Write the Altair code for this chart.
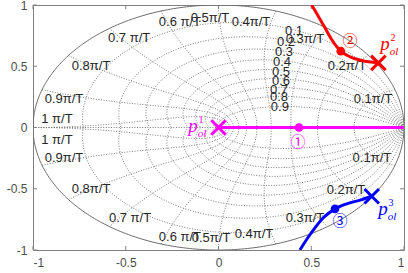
import numpy as np
import pandas as pd
import altair as alt

# ---------------- data ----------------
zeta_vals = [0.1, 0.2, 0.3, 0.4, 0.5, 0.6, 0.7, 0.8, 0.9]
wn_vals = [0.1, 0.2, 0.3, 0.4, 0.5, 0.6, 0.7, 0.8, 0.9, 1.0]
tick_vals = [-1, -0.5, 0, 0.5, 1]

wn_labels = ["0.1π/T", "0.2π/T", "0.3π/T", "0.4π/T", "0.5π/T",
             "0.6 π/T", "0.7 π/T", "0.8π/T", "0.9π/T", "1 π/T"]
wn_lab_x_up = [0.833, 0.693, 0.466, 0.175, -0.046, -0.208, -0.482, -0.687, -0.833, -0.871]
wn_lab_y_up = [0.229, 0.498, 0.725, 0.865, 0.893, 0.865, 0.727, 0.498, 0.229, 0.073]
wn_lab_x_lo = [0.827, 0.687, 0.466, 0.191, -0.040, -0.208, -0.477, -0.687, -0.833, -0.871]
wn_lab_y_lo = [-0.253, -0.514, -0.735, -0.873, -0.898, -0.890, -0.735, -0.506, -0.245, -0.098]

zeta_labels = ["0.1", "0.2", "0.3", "0.4", "0.5", "0.6", "0.7", "0.8", "0.9"]
zeta_lab_x = [0.407, 0.364, 0.353, 0.342, 0.337, 0.337, 0.326, 0.326, 0.331]
zeta_lab_y = [0.784, 0.702, 0.620, 0.531, 0.449, 0.376, 0.310, 0.245, 0.171]

locus1_x = [0.0, 0.434, 1.0]
locus1_y = [0.0, 0.0, 0.0]
locus2_x = [0.502, 0.538, 0.574, 0.610, 0.659, 0.709, 0.772, 0.862]
locus2_y = [1.000, 0.909, 0.814, 0.718, 0.623, 0.577, 0.547, 0.528]
locus3_x = [0.439, 0.475, 0.520, 0.565, 0.628, 0.691, 0.763, 0.826]
locus3_y = [-1.000, -0.914, -0.819, -0.737, -0.664, -0.623, -0.593, -0.561]

pole_x = [0.0, 0.862, 0.826]
pole_y = [0.0, 0.528, -0.561]
dot_x = [0.434, 0.659, 0.628]
dot_y = [0.0, 0.623, -0.664]
branch = ["1", "2", "3"]
line_colors = ["#ff00ff", "#ff0000", "#0000ff"]
dot_colors = ["#f030c8", "#f01010", "#0010f0"]
text_colors = ["#ff40d0", "#ff3030", "#3030ff"]
circ_text = ["①", "②", "③"]
circ_x = [0.429, 0.709, 0.655]
circ_y = [-0.122, 0.710, -0.767]
p_x = [-0.137, 0.898, 0.887]
p_y = [-0.040, 0.629, -0.718]

# ---------------- tables ----------------
rows = []
th = np.linspace(0, np.pi, 181)
for i, z in enumerate(zeta_vals):
    m = z / np.sqrt(1 - z * z)
    r = np.exp(-m * th)
    for s in (1, -1):
        for k in range(len(th)):
            rows.append(dict(g=f"z{i}{s}", o=k, x=r[k] * np.cos(th[k]), y=s * r[k] * np.sin(th[k])))
zz = np.linspace(0, 1, 81)
for i, wn in enumerate(wn_vals):
    w = wn * np.pi
    mag = np.exp(-w * zz)
    ang = w * np.sqrt(1 - zz ** 2)
    for s in (1, -1):
        for k in range(len(zz)):
            rows.append(dict(g=f"w{i}{s}", o=k, x=mag[k] * np.cos(ang[k]), y=s * mag[k] * np.sin(ang[k])))
rows.append(dict(g="axis", o=0, x=-1.0, y=0.0))
rows.append(dict(g="axis", o=1, x=1.0, y=0.0))
grid_df = pd.DataFrame(rows)

tc = np.linspace(0, 2 * np.pi, 361)
circle_df = pd.DataFrame(dict(o=range(len(tc)), x=np.cos(tc), y=np.sin(tc)))

wn_df = pd.DataFrame(dict(t=wn_labels * 2, x=wn_lab_x_up + wn_lab_x_lo, y=wn_lab_y_up + wn_lab_y_lo))
zeta_df = pd.DataFrame(dict(t=zeta_labels, x=zeta_lab_x, y=zeta_lab_y))

loc_rows = []
for b, xs, ys in zip(branch, [locus1_x, locus2_x, locus3_x], [locus1_y, locus2_y, locus3_y]):
    for k, (a, c) in enumerate(zip(xs, ys)):
        loc_rows.append(dict(b=b, o=k, x=a, y=c))
loc_df = pd.DataFrame(loc_rows)
pole_df = pd.DataFrame(dict(b=branch, x=pole_x, y=pole_y))
dot_df = pd.DataFrame(dict(b=branch, x=dot_x, y=dot_y))
circ_df = pd.DataFrame(dict(b=branch, t=circ_text, x=circ_x, y=circ_y))
p_df = pd.DataFrame(dict(b=branch, x=p_x, y=p_y, sup=branch))
tick_df = pd.DataFrame(dict(v=tick_vals))

W, H = 371, 245
dom = [-1, 1]
ax_common = dict(values=tick_vals, title=None, domain=False, ticks=False, grid=False,
                 labelExpr="'' + datum.value", labelFont="Liberation Sans",
                 labelFontSize=12, labelColor="#4d4d4d")


def X(f="x"):
    return alt.X(f"{f}:Q", scale=alt.Scale(domain=dom, nice=False, zero=False),
                 axis=alt.Axis(labelPadding=7, **ax_common))


def Y(f="y"):
    return alt.Y(f"{f}:Q", scale=alt.Scale(domain=dom, nice=False, zero=False),
                 axis=alt.Axis(labelPadding=6, **ax_common))


col_scale = alt.Scale(domain=branch, range=line_colors)
dot_scale = alt.Scale(domain=branch, range=dot_colors)
txt_scale = alt.Scale(domain=branch, range=text_colors)

grid = alt.Chart(grid_df).mark_line(color="#7a7a7a", strokeWidth=1, strokeDash=[1, 1.6], clip=True).encode(
    x=X(), y=Y(), detail="g:N", order="o:Q")
circle = alt.Chart(circle_df).mark_line(color="#6e6e6e", strokeWidth=1, clip=True).encode(
    x=X(), y=Y(), order="o:Q")

wn_text = alt.Chart(wn_df).mark_text(font="Liberation Sans", fontSize=13, color="#262626",
                                     align="center", baseline="middle").encode(x=X(), y=Y(), text="t:N")
zeta_text = alt.Chart(zeta_df).mark_text(font="Liberation Sans", fontSize=13, color="#262626",
                                         align="center", baseline="middle").encode(x=X(), y=Y(), text="t:N")

ticks_bottom = alt.Chart(tick_df).mark_rule(color="#808080").encode(x=X("v"), y=alt.value(H), y2=alt.value(H - 4))
ticks_top = alt.Chart(tick_df).mark_rule(color="#808080").encode(x=X("v"), y=alt.value(0), y2=alt.value(4))
ticks_left = alt.Chart(tick_df).mark_rule(color="#808080").encode(y=Y("v"), x=alt.value(0), x2=alt.value(4))
ticks_right = alt.Chart(tick_df).mark_rule(color="#808080").encode(y=Y("v"), x=alt.value(W), x2=alt.value(W - 4))

loci = alt.Chart(loc_df).mark_line(strokeWidth=3, interpolate="monotone", clip=True).encode(
    x=X(), y=Y(), detail="b:N", order="o:Q", color=alt.Color("b:N", scale=col_scale, legend=None))
poles = alt.Chart(pole_df).mark_point(shape="M-1,-1L1,1M-1,1L1,-1", size=210, strokeWidth=3,
                                      filled=False, opacity=1).encode(
    x=X(), y=Y(), color=alt.Color("b:N", scale=col_scale, legend=None))
dots = alt.Chart(dot_df).mark_circle(size=75, opacity=1).encode(
    x=X(), y=Y(), color=alt.Color("b:N", scale=dot_scale, legend=None))
circ = alt.Chart(circ_df).mark_text(font="Noto Sans CJK SC", fontSize=15, align="center",
                                    baseline="middle").encode(
    x=X(), y=Y(), text="t:N", color=alt.Color("b:N", scale=txt_scale, legend=None))
p_main = alt.Chart(p_df).mark_text(text="p", font="Liberation Serif", fontStyle="italic", fontSize=19,
                                   align="center", baseline="alphabetic").encode(
    x=X(), y=Y(), color=alt.Color("b:N", scale=col_scale, legend=None))
p_sup = alt.Chart(p_df).mark_text(font="Liberation Serif", fontSize=10, align="center",
                                  baseline="alphabetic", dx=8, dy=-9).encode(
    x=X(), y=Y(), text="sup:N", color=alt.Color("b:N", scale=col_scale, legend=None))
p_sub = alt.Chart(p_df).mark_text(text="ol", font="Liberation Serif", fontStyle="italic", fontSize=11,
                                  align="center", baseline="alphabetic", dx=9, dy=5).encode(
    x=X(), y=Y(), color=alt.Color("b:N", scale=col_scale, legend=None))

chart = alt.layer(
    grid, circle, wn_text, zeta_text,
    ticks_bottom, ticks_top, ticks_left, ticks_right,
    loci, poles, dots, circ, p_main, p_sup, p_sub
).properties(
    width=W, height=H, autosize="none",
    padding={"left": 33, "top": 5, "right": 4, "bottom": 23},
    background="white"
).configure_view(stroke="#808080", strokeWidth=1)

chart.save("out.html", embed_options={"renderer": "svg", "actions": False})
